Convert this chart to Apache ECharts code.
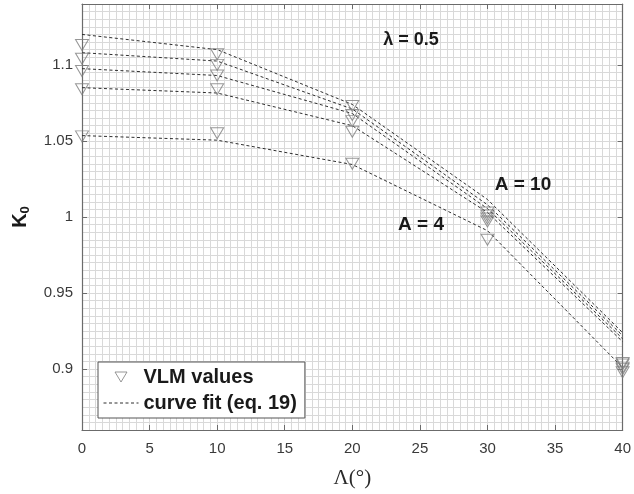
<!DOCTYPE html>
<html>
<head>
<meta charset="utf-8">
<script src="https://cdn.jsdelivr.net/npm/echarts@6/dist/echarts.min.js"></script>
<style>
  html, body { margin: 0; padding: 0; background: #fff; }
  #chart { width: 634px; height: 494px; }
</style>
</head>
<body>
<div id="chart"></div>
<script>
// Sweep angle Λ (degrees) at which K0 was evaluated
const sweepDeg = [0, 10, 20, 30, 40];

// VLM results, from the highest aspect ratio (A = 10) down to A = 4
const vlmA10 = [1.113, 1.107, 1.073, 1.003, 0.904];
const vlmB   = [1.104, 1.100, 1.067, 1.001, 0.903];
const vlmC   = [1.096, 1.093, 1.063, 0.999, 0.901];
const vlmD   = [1.084, 1.084, 1.056, 0.997, 0.900];
const vlmA4  = [1.053, 1.055, 1.035, 0.985, 0.898];

// Curve fit (eq. 19), same ordering
const fitA10 = [1.120, 1.110, 1.074, 1.0115, 0.924];
const fitB   = [1.108, 1.1025, 1.071, 1.008, 0.922];
const fitC   = [1.0975, 1.093, 1.068, 1.0055, 0.920];
const fitD   = [1.085, 1.0815, 1.060, 1.003, 0.918];
const fitA4  = [1.0535, 1.0505, 1.0345, 0.991, 0.901];

// Tick labels
const xTicks = [0, 5, 10, 15, 20, 25, 30, 35, 40];
const yTicks = [0.9, 0.95, 1, 1.05, 1.1];

const vlmSets = [vlmA10, vlmB, vlmC, vlmD, vlmA4];
const fitSets = [fitA10, fitB, fitC, fitD, fitA4];

const X_MIN = 0, X_MAX = 40, Y_MIN = 0.86, Y_MAX = 1.14;

const AXIS_COLOR = '#6b6b6b';
const GRID_COLOR = '#d9d9d9';
const LABEL_COLOR = '#3a3a3a';
const FONT = '"Liberation Sans", Arial, sans-serif';

const pairs = arr => arr.map((v, i) => [sweepDeg[i], v]);

// Fine background grid (every 0.5° and every 0.005)
const gridX = {
  type: 'value', min: X_MIN, max: X_MAX, interval: 0.5, position: 'bottom',
  axisLine: { show: false }, axisTick: { show: false }, axisLabel: { show: false },
  splitLine: { show: true, lineStyle: { color: GRID_COLOR, width: 1 } }
};
const gridY = {
  type: 'value', min: Y_MIN, max: Y_MAX, interval: 0.005, position: 'left',
  axisLine: { show: false }, axisTick: { show: false }, axisLabel: { show: false },
  splitLine: { show: true, lineStyle: { color: GRID_COLOR, width: 1 } }
};

function xAxisDef(pos) {
  const bottom = pos === 'bottom';
  return {
    type: 'value', position: pos, min: X_MIN, max: X_MAX, interval: 5,
    axisLine: { show: true, onZero: false, lineStyle: { color: AXIS_COLOR, width: 1.2 } },
    axisTick: { show: true, inside: true, length: 5, customValues: xTicks,
                lineStyle: { color: AXIS_COLOR } },
    axisLabel: { show: bottom, customValues: xTicks, margin: 11, color: LABEL_COLOR,
                 fontSize: 15, fontFamily: FONT },
    splitLine: { show: false },
    name: bottom ? 'Λ(°)' : '', nameLocation: 'middle', nameGap: 38,
    nameTextStyle: { fontFamily: '"Liberation Serif", "DejaVu Serif", serif', fontSize: 21,
                     color: '#2a2a2a' }
  };
}

function yAxisDef(pos) {
  const left = pos === 'left';
  return {
    type: 'value', position: pos, min: Y_MIN, max: Y_MAX,
    axisLine: { show: true, onZero: false, lineStyle: { color: AXIS_COLOR, width: 1.2 } },
    axisTick: { show: true, inside: true, length: 5, customValues: yTicks,
                lineStyle: { color: AXIS_COLOR } },
    axisLabel: { show: left, customValues: yTicks, margin: 9, color: LABEL_COLOR,
                 fontSize: 15, fontFamily: FONT },
    splitLine: { show: false },
    name: left ? '{k|K}{s|0}' : '', nameLocation: 'middle', nameGap: 50,
    nameTextStyle: {
      rich: {
        k: { fontSize: 20, fontWeight: 'bold', fontFamily: FONT, color: '#1a1a1a', lineHeight: 24 },
        s: { fontSize: 13, fontWeight: 'bold', fontFamily: FONT, color: '#1a1a1a',
             verticalAlign: 'bottom', lineHeight: 24, padding: [6, 0, 0, 0] }
      }
    }
  };
}

const series = [];
fitSets.forEach(d => series.push({
  name: 'curve fit (eq. 19)', type: 'line', xAxisIndex: 0, yAxisIndex: 0,
  data: pairs(d), symbol: 'none', showSymbol: false, silent: true,
  itemStyle: { color: '#2e2e2e' },
  lineStyle: { color: '#2e2e2e', width: 1, type: [3, 2.5] },
  z: 3
}));
vlmSets.forEach(d => series.push({
  name: 'VLM values', type: 'scatter', xAxisIndex: 0, yAxisIndex: 0,
  data: pairs(d), symbol: 'triangle', symbolRotate: 180, symbolSize: [13, 11],
  silent: true,
  itemStyle: { color: 'rgba(0,0,0,0)', borderColor: '#7d7d7d', borderWidth: 1 },
  z: 4
}));

function note(text, x, y, size) {
  return {
    type: 'text', x: x, y: y, z: 100, zlevel: 0,
    style: { text: text, font: 'bold ' + size + 'px ' + FONT, fill: '#1a1a1a',
             textAlign: 'center', textVerticalAlign: 'middle' }
  };
}

const chart = echarts.init(document.getElementById('chart'), null, { renderer: 'canvas' });
chart.setOption({
  animation: false,
  backgroundColor: '#ffffff',
  grid: { left: 82, right: 7, top: 4, bottom: 59 },
  xAxis: [gridX, xAxisDef('bottom'), xAxisDef('top')],
  yAxis: [gridY, yAxisDef('left'), yAxisDef('right')],
  legend: {
    left: 98, top: 362, orient: 'vertical', z: 50,
    padding: [5, 8, 5, 5], itemGap: 6, itemWidth: 35, itemHeight: 10,
    backgroundColor: '#ffffff', borderColor: '#555555', borderWidth: 1, borderRadius: 0,
    selectedMode: false,
    textStyle: { fontSize: 20, fontWeight: 'bold', color: '#1a1a1a', fontFamily: FONT },
    data: [
      { name: 'VLM values', icon: 'path://M0,0L12,0L6,10Z', symbolRotate: 0,
        itemStyle: { color: 'rgba(0,0,0,0)', borderColor: '#7d7d7d', borderWidth: 1 } },
      { name: 'curve fit (eq. 19)',
        itemStyle: { color: 'rgba(0,0,0,0)', borderColor: 'rgba(0,0,0,0)', borderWidth: 0 },
        lineStyle: { color: '#2e2e2e', width: 1, type: [3, 2.5] } }
    ]
  },
  graphic: [
    note('λ = 0.5', 411, 40, 18),
    note('A = 10', 523, 185, 19),
    note('A = 4', 421, 225, 19)
  ],
  series: series
});
</script>
</body>
</html>
